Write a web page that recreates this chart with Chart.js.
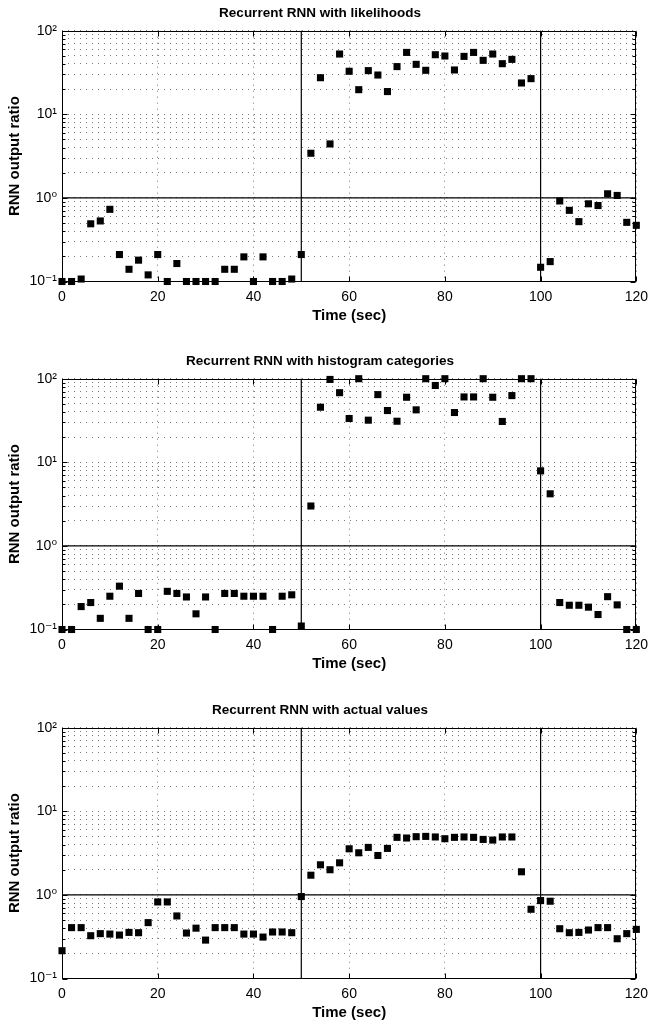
<!DOCTYPE html>
<html>
<head>
<meta charset="utf-8">
<script src="https://cdn.jsdelivr.net/npm/chart.js@4/dist/chart.umd.min.js"></script>
<style>
  body { margin: 0; background: #fff; }
  #wrap { position: relative; width: 655px; height: 1022px; }
  canvas { position: absolute; left: 0; }
</style>
</head>
<body>
<div id="wrap">
  <canvas id="likelihoodChart" width="655" height="325" style="top:0px"></canvas>
  <canvas id="histogramChart" width="655" height="325" style="top:348px"></canvas>
  <canvas id="actualChart" width="655" height="325" style="top:697px"></canvas>
</div>
<script>
// Tiempo (s), una muestra cada 2 segundos
const times = [0, 2, 4, 6, 8, 10, 12, 14, 16, 18,
    20, 22, 24, 26, 28, 30, 32, 34, 36, 38,
    40, 42, 44, 46, 48, 50, 52, 54, 56, 58,
    60, 62, 64, 66, 68, 70, 72, 74, 76, 78,
    80, 82, 84, 86, 88, 90, 92, 94, 96, 98,
    100, 102, 104, 106, 108, 110, 112, 114, 116, 118,
    120];

const likelihoodRatio = [0.1, 0.1, 0.107, 0.49, 0.53, 0.73, 0.21, 0.14, 0.18, 0.12,
    0.21, 0.1, 0.164, 0.1, 0.1, 0.1, 0.1, 0.14, 0.14, 0.197,
    0.1, 0.197, 0.1, 0.1, 0.107, 0.21, 3.42, 27.4, 4.42, 52.6,
    32.7, 19.7, 33.3, 29.5, 18.7, 37.2, 55, 39.6, 33.6, 51.6,
    49.8, 33.9, 49.3, 55, 44.2, 52.6, 40.3, 45.4, 23.7, 26.7,
    0.148, 0.173, 0.92, 0.71, 0.52, 0.85, 0.81, 1.12, 1.07, 0.51,
    0.47];

const histogramRatio = [0.1, 0.1, 0.188, 0.21, 0.136, 0.25, 0.33, 0.136, 0.27, 0.1,
    0.1, 0.286, 0.27, 0.245, 0.154, 0.245, 0.1, 0.27, 0.27, 0.25,
    0.25, 0.25, 0.1, 0.25, 0.26, 0.11, 3.0, 45.6, 98, 68,
    33.4, 100, 31.9, 64.5, 41.6, 31, 60, 42.4, 100, 83,
    100, 39.4, 60.5, 60.5, 100, 60, 30.8, 62.8, 100, 100,
    7.9, 4.2, 0.21, 0.195, 0.195, 0.185, 0.151, 0.247, 0.197, 0.1,
    0.1];

const actualRatio = [0.215, 0.406, 0.406, 0.325, 0.344, 0.34, 0.331, 0.356, 0.353, 0.466,
    0.824, 0.824, 0.56, 0.35, 0.40, 0.288, 0.406, 0.406, 0.406, 0.34,
    0.34, 0.313, 0.36, 0.36, 0.353, 0.955, 1.72, 2.29, 2.0, 2.42,
    3.56, 3.19, 3.70, 2.96, 3.60, 4.88, 4.79, 4.97, 5.01, 4.93,
    4.70, 4.88, 4.93, 4.88, 4.61, 4.53, 4.93, 4.93, 1.89, 0.673,
    0.855, 0.84, 0.394, 0.353, 0.356, 0.38, 0.406, 0.406, 0.299, 0.344,
    0.387];

const panelTitles = ['Recurrent RNN with likelihoods',
    'Recurrent RNN with histogram categories',
    'Recurrent RNN with actual values'];

// Marcas del eje Y logarítmico (décadas y subdivisiones)
const yTickValues = [0.1, 0.2, 0.3, 0.4, 0.5, 0.6, 0.7, 0.8, 0.9,
    1, 2, 3, 4, 5, 6, 7, 8, 9,
    10, 20, 30, 40, 50, 60, 70, 80, 90, 100];
const yDecades = [0.1, 1, 10, 100];
const yDecadeLabels = ['10\u207B\u00B9', '10\u2070', '10\u00B9', '10\u00B2'];
const xRange = [0, 120];
const yRange = [0.1, 100];

// Líneas de referencia: límites de segmento y razón = 1
const boundaryTimes = [50, 100];
const thresholdRatio = 1;

const fontFamily = '"Liberation Sans", Arial, Helvetica, "DejaVu Sans", sans-serif';

// Marco negro completo y marcas interiores
const boxPlugin = {
    id: 'box',
    afterDraw(chart) {
        const ctx = chart.ctx;
        const a = chart.chartArea;
        const L = Math.round(a.left) + 0.5, R = Math.round(a.right) - 0.5;
        const T = Math.round(a.top) + 0.5, B = Math.round(a.bottom) - 0.5;
        ctx.save();
        ctx.strokeStyle = '#000';
        ctx.lineWidth = 1;
        ctx.beginPath();
        chart.scales.y.ticks.forEach(function(t) {
            const py = Math.round(chart.scales.y.getPixelForValue(t.value)) + 0.5;
            const len = yDecades.includes(t.value) ? 5 : 3;
            ctx.moveTo(L, py); ctx.lineTo(L + len, py);
            ctx.moveTo(R, py); ctx.lineTo(R - len, py);
        });
        chart.scales.x.ticks.forEach(function(t) {
            const px = Math.round(chart.scales.x.getPixelForValue(t.value)) + 0.5;
            ctx.moveTo(px, B); ctx.lineTo(px, B - 5);
            ctx.moveTo(px, T); ctx.lineTo(px, T + 5);
        });
        ctx.stroke();
        ctx.strokeRect(L, T, R - L, B - T);
        ctx.restore();
    }
};

function makePanel(canvasId, title, values) {
    const ctx = document.getElementById(canvasId).getContext('2d');
    const datasets = [{
        type: 'scatter',
        data: times.map((t, i) => ({x: t, y: values[i]})),
        backgroundColor: '#000',
        borderColor: '#000',
        borderWidth: 0,
        pointStyle: 'rect',
        pointRadius: 5,
        order: 1
    }];
    boundaryTimes.forEach(function(bt) {
        datasets.push({
            type: 'line',
            data: [{x: bt, y: yRange[0]}, {x: bt, y: yRange[1]}],
            borderColor: '#000',
            borderWidth: 1.2,
            pointRadius: 0,
            order: 2
        });
    });
    datasets.push({
        type: 'line',
        data: [{x: xRange[0], y: thresholdRatio}, {x: xRange[1], y: thresholdRatio}],
        borderColor: '#000',
        borderWidth: 1.2,
        pointRadius: 0,
        order: 2
    });

    return new Chart(ctx, {
        data: { datasets: datasets },
        options: {
            responsive: false,
            animation: false,
            devicePixelRatio: 1,
            layout: { padding: { left: 0, right: 15, top: 0, bottom: 0 } },
            plugins: {
                legend: { display: false },
                tooltip: { enabled: false },
                title: {
                    display: true,
                    text: title,
                    color: '#000',
                    font: { family: fontFamily, size: 13.5, weight: 'bold' },
                    padding: { top: 5, bottom: 9.5 }
                }
            },
            scales: {
                x: {
                    type: 'linear',
                    min: xRange[0],
                    max: xRange[1],
                    ticks: {
                        stepSize: 20,
                        color: '#000',
                        padding: 7,
                        font: { family: fontFamily, size: 14 }
                    },
                    grid: { color: '#7a7a7a', drawTicks: false },
                    border: { display: false, dash: [1, 5] },
                    title: {
                        display: true,
                        text: 'Time (sec)',
                        color: '#000',
                        padding: { top: 0, bottom: 0 },
                        font: { family: fontFamily, size: 15, weight: 'bold' }
                    },
                    afterFit: function(scale) { scale.height = 43.5; }
                },
                y: {
                    type: 'logarithmic',
                    min: yRange[0],
                    max: yRange[1],
                    afterBuildTicks: function(scale) {
                        scale.ticks = yTickValues.map(v => ({value: v}));
                    },
                    ticks: {
                        autoSkip: false,
                        color: '#000',
                        padding: 5,
                        font: { family: fontFamily, size: 14 },
                        callback: function(value) {
                            const k = yDecades.indexOf(value);
                            return k >= 0 ? yDecadeLabels[k] : '';
                        }
                    },
                    grid: { color: '#7a7a7a', drawTicks: false },
                    border: { display: false, dash: [1, 5] },
                    title: {
                        display: true,
                        text: 'RNN output ratio',
                        color: '#000',
                        padding: { top: 6, bottom: 0 },
                        font: { family: fontFamily, size: 15, weight: 'bold' }
                    },
                    afterFit: function(scale) { scale.width = 62; }
                }
            },
            elements: { line: { tension: 0 } },
            clip: false
        },
        plugins: [boxPlugin]
    });
}

makePanel('likelihoodChart', panelTitles[0], likelihoodRatio);
makePanel('histogramChart', panelTitles[1], histogramRatio);
makePanel('actualChart', panelTitles[2], actualRatio);
</script>
</body>
</html>
